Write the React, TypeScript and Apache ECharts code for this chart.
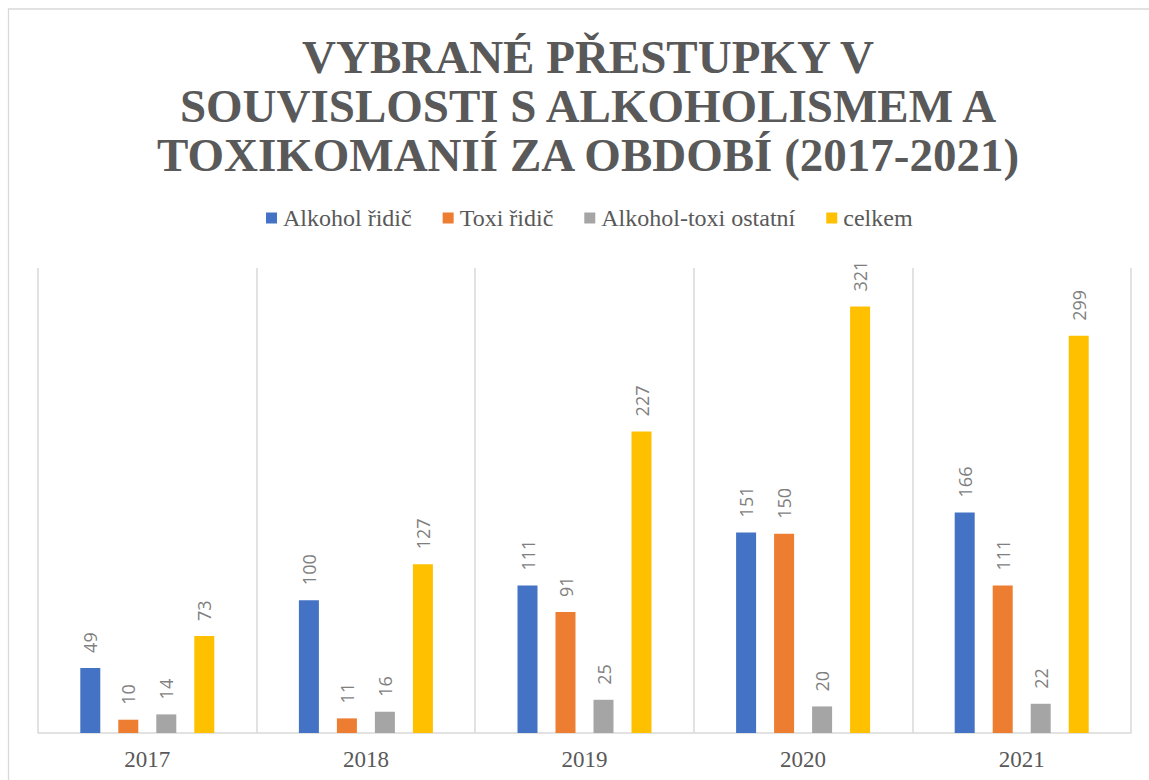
import React, { useEffect, useRef } from "react";
import * as echarts from "echarts";

const categories = ["2017", "2018", "2019", "2020", "2021"];
const seriesNames = ["Alkohol řidič", "Toxi řidič", "Alkohol-toxi ostatní", "celkem"];
const alkoholRidic = [49, 100, 111, 151, 166];
const toxiRidic = [10, 11, 91, 150, 111];
const alkoholToxiOstatni = [14, 16, 25, 20, 22];
const celkem = [73, 127, 227, 321, 299];
const colors = ["#4472C4", "#ED7D31", "#A5A5A5", "#FFC000"];
const titleText = "VYBRANÉ PŘESTUPKY V\nSOUVISLOSTI S ALKOHOLISMEM A\nTOXIKOMANIÍ ZA OBDOBÍ (2017-2021)";

export default function App() {
  const ref = useRef<HTMLDivElement>(null);
  useEffect(() => {
    if (!ref.current) return;
    const chart = echarts.init(ref.current, null, { renderer: "svg" });
    const values = [alkoholRidic, toxiRidic, alkoholToxiOstatni, celkem];
    chart.setOption({
      animation: false,
      backgroundColor: "#ffffff",
      title: {
        text: titleText,
        left: 583,
        top: 27,
        textAlign: "center",
        textStyle: {
          fontFamily: "Liberation Serif",
          fontWeight: "bold",
          fontSize: 47,
          lineHeight: 49,
          color: "#595959",
        },
      },
      legend: {
        left: 266,
        top: 206,
        padding: 0,
        icon: "rect",
        itemWidth: 11,
        itemHeight: 11,
        itemGap: 31,
        textStyle: {
          fontFamily: "Liberation Serif",
          fontSize: 24,
          color: "#595959",
          padding: [0, 0, 0, 1],
        },
        data: seriesNames,
      },
      graphic: [
        {
          type: "rect",
          shape: { x: 8.5, y: 9, width: 1170, height: 800 },
          style: { fill: "none", stroke: "#d9d9d9", lineWidth: 1.3 },
          silent: true,
        },
      ],
      grid: { left: 38, right: 18, top: 268, bottom: 47 },
      xAxis: {
        type: "category",
        data: categories,
        axisLine: { show: true, lineStyle: { color: "#d9d9d9", width: 1.5 } },
        axisTick: { show: false },
        splitLine: { show: true, lineStyle: { color: "#d9d9d9", width: 1.5 } },
        axisLabel: {
          fontFamily: "Liberation Serif",
          fontSize: 23,
          color: "#595959",
          margin: 15,
        },
      },
      yAxis: {
        type: "value",
        min: 0,
        max: 350,
        interval: 50,
        show: false,
        splitLine: { show: false },
      },
      series: seriesNames.map((name, i) => ({
        name,
        type: "bar",
        data: values[i],
        barWidth: 20,
        barGap: "90%",
        itemStyle: { color: colors[i] },
        label: {
          show: true,
          position: "top",
          rotate: 90,
          align: "left",
          verticalAlign: "middle",
          distance: 15,
          fontFamily: "Open Sans",
          fontSize: 18,
          color: "#7f7f7f",
        },
      })),
    });
    return () => chart.dispose();
  }, []);
  return (
    <div
      ref={ref}
      style={{ position: "absolute", left: 0, top: 0, width: 1149, height: 780 }}
    />
  );
}
